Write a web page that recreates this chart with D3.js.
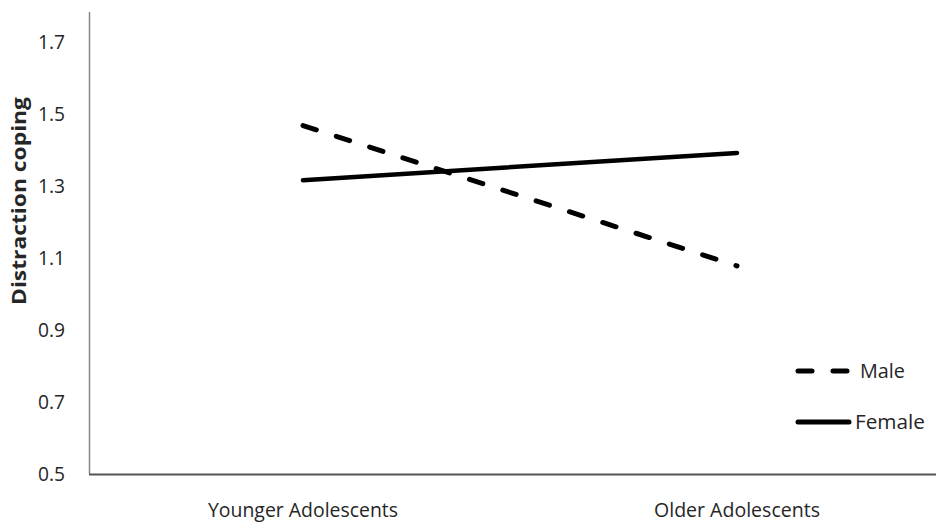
<!DOCTYPE html>
<html><head><meta charset="utf-8">
<script src="https://cdn.jsdelivr.net/npm/d3@7"></script>
<style>body{margin:0;background:#fff}</style>
</head><body>
<svg id="c" width="936" height="523"></svg>
<script>
const categories = ["Younger Adolescents", "Older Adolescents"];
const male = [1.468, 1.078];
const female = [1.316, 1.392];
const yTicks = [0.5, 0.7, 0.9, 1.1, 1.3, 1.5, 1.7];
const seriesNames = ["Male", "Female"];

const svg = d3.select("#c");
const font = "'Open Sans', sans-serif";
const txt = "#262626";
const x = d3.scaleBand().domain(categories).range([86, 954]);
const y = d3.scaleLinear().domain([0.5, 1.7]).range([474, 42]);
const cx = d => x(d) + x.bandwidth() / 2;

// axes lines
svg.append("line").attr("x1", 89.5).attr("x2", 89.5).attr("y1", 12).attr("y2", 474)
  .attr("stroke", "#868686").attr("stroke-width", 1.5);
svg.append("line").attr("x1", 89).attr("x2", 936).attr("y1", 474.5).attr("y2", 474.5)
  .attr("stroke", "#555").attr("stroke-width", 2);

// y tick labels
svg.selectAll(".yt").data(yTicks).enter().append("text")
  .attr("x", 65).attr("y", d => y(d)).attr("dy", "0.36em")
  .attr("text-anchor", "end").attr("font-family", font).attr("font-size", 20)
  .attr("fill", txt).attr("textLength", 27).attr("lengthAdjust", "spacingAndGlyphs")
  .text(d => d.toFixed(1));

// x labels
const xLen = [190, 166];
svg.selectAll(".xt").data(categories).enter().append("text")
  .attr("x", d => cx(d)).attr("y", 517)
  .attr("text-anchor", "middle").attr("font-family", font).attr("font-size", 20)
  .attr("fill", txt).attr("textLength", (d, i) => xLen[i]).attr("lengthAdjust", "spacingAndGlyphs")
  .text(d => d);

// y title
svg.append("text").attr("transform", "translate(26,201) rotate(-90)")
  .attr("text-anchor", "middle").attr("font-family", font).attr("font-size", 19)
  .attr("font-weight", "bold").attr("fill", txt)
  .attr("textLength", 208).attr("lengthAdjust", "spacingAndGlyphs")
  .text("Distraction coping");

const line = d3.line().x((d, i) => cx(categories[i])).y(d => y(d));
svg.append("path").datum(male).attr("d", line).attr("fill", "none")
  .attr("stroke", "#000").attr("stroke-width", 5).attr("stroke-linecap", "round")
  .attr("stroke-dasharray", "14 21");
svg.append("path").datum(female).attr("d", line).attr("fill", "none")
  .attr("stroke", "#000").attr("stroke-width", 4.5).attr("stroke-linecap", "round");

// legend
const leg = [
  {name: seriesNames[0], dash: "14 21", ty: 371, tx: 860, len: 45},
  {name: seriesNames[1], dash: null, ty: 422, tx: 855, len: 70}
];
leg.forEach(l => {
  const ln = svg.append("line").attr("x1", 798).attr("x2", 849).attr("y1", l.ty).attr("y2", l.ty)
    .attr("stroke", "#000").attr("stroke-width", 5).attr("stroke-linecap", "round");
  if (l.dash) ln.attr("stroke-dasharray", "14 21");
  svg.append("text").attr("x", l.tx).attr("y", l.ty).attr("dy", "0.36em")
    .attr("font-family", font).attr("font-size", 20).attr("fill", txt)
    .attr("textLength", l.len).attr("lengthAdjust", "spacingAndGlyphs").text(l.name);
});
</script>
</body></html>
